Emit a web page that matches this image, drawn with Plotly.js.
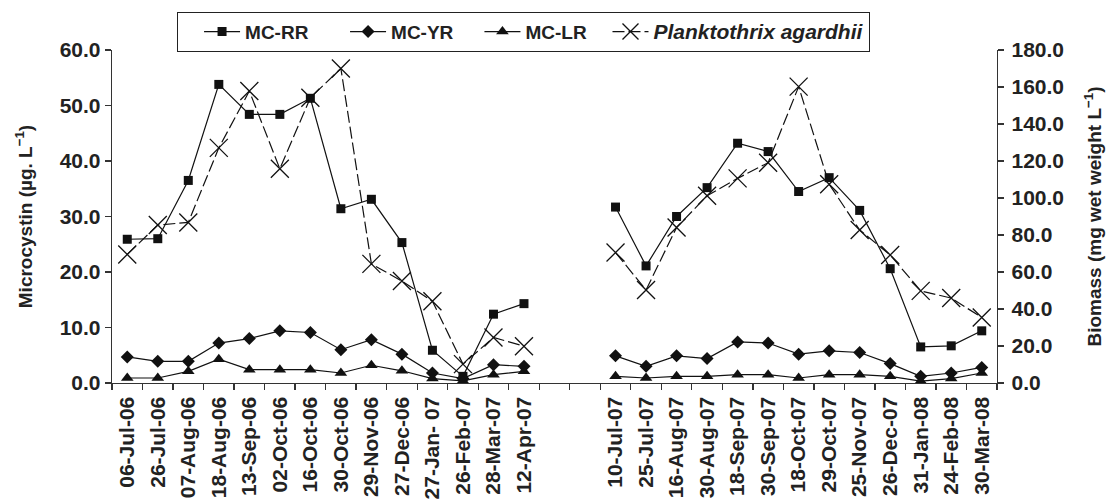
<!DOCTYPE html>
<html>
<head>
<meta charset="utf-8">
<script src="https://cdn.plot.ly/plotly-3.0.1.min.js"></script>
<style>html,body{margin:0;padding:0;background:#fff;}#chart{width:1113px;height:500px;}</style>
</head>
<body>
<div id="chart"></div>
<script>
// Sampling dates (two seasons) and two empty gap categories between them
var dates1 = ["06-Jul-06","26-Jul-06","07-Aug-06","18-Aug-06","13-Sep-06","02-Oct-06","16-Oct-06","30-Oct-06","29-Nov-06","27-Dec-06","27-Jan- 07","26-Feb-07","28-Mar-07","12-Apr-07"];
var gapLabels = [" ", "  "];
var dates2 = ["10-Jul-07","25-Jul-07","16-Aug-07","30-Aug-07","18-Sep-07","30-Sep-07","18-Oct-07","29-Oct-07","25-Nov-07","26-Dec-07","31-Jan-08","24-Feb-08","30-Mar-08"];

// Series names
var seriesNames = ["MC-RR", "MC-YR", "MC-LR", "Planktothrix agardhii"];

// Microcystin (µg L-1), left axis
var mcRR1 = [25.9, 26.0, 36.5, 53.8, 48.4, 48.4, 51.3, 31.4, 33.1, 25.3, 5.9, 1.2, 12.4, 14.3];
var mcRR2 = [31.7, 21.1, 30.0, 35.2, 43.2, 41.7, 34.5, 37.0, 31.1, 20.6, 6.5, 6.7, 9.4];
var mcYR1 = [4.7, 3.9, 3.9, 7.2, 8.0, 9.4, 9.1, 6.0, 7.8, 5.2, 1.8, 0.8, 3.3, 3.0];
var mcYR2 = [4.9, 3.0, 4.9, 4.4, 7.4, 7.2, 5.2, 5.8, 5.5, 3.5, 1.2, 1.8, 2.8];
var mcLR1 = [0.9, 0.9, 2.1, 4.3, 2.4, 2.4, 2.4, 1.8, 3.2, 2.2, 0.8, 0.4, 1.5, 2.1];
var mcLR2 = [1.2, 0.9, 1.2, 1.2, 1.5, 1.5, 0.9, 1.5, 1.5, 1.2, 0.35, 0.8, 1.8];
// Planktothrix agardhii biomass (mg wet weight L-1), right axis
var plank1 = [69.5, 85.4, 86.8, 127.1, 157.8, 115.8, 154.2, 170.0, 64.4, 55.1, 44.2, 10.2, 24.6, 19.9];
var plank2 = [70.5, 50.3, 84.1, 101.2, 110.6, 119.1, 160.2, 107.4, 82.7, 69.2, 49.8, 45.9, 35.4];

var categories = dates1.concat(gapLabels).concat(dates2);
var gapVals = gapLabels.map(function(){ return null; });
function join(a, b){ return a.concat(gapVals).concat(b); }
// legend spacing: trailing no-break spaces widen each legend entry
function pad(s, n){ return s + new Array(n + 1).join("\u00A0"); }

var FONT = "Arial, 'Liberation Sans', Helvetica, sans-serif";
var lineCommon = {color: "#111", width: 1.2};

var traces = [
  {name: pad(seriesNames[0], 6), x: categories, y: join(mcRR1, mcRR2), type: "scatter", mode: "lines+markers",
   line: lineCommon, marker: {symbol: "square", size: 9, color: "#111"}, connectgaps: false},
  {name: pad(seriesNames[1], 4), x: categories, y: join(mcYR1, mcYR2), type: "scatter", mode: "lines+markers",
   line: lineCommon, marker: {symbol: "diamond", size: 10, color: "#111"}, connectgaps: false},
  {name: pad(seriesNames[2], 3), x: categories, y: join(mcLR1, mcLR2), type: "scatter", mode: "lines+markers",
   line: lineCommon, marker: {symbol: "triangle-up", size: 11, color: "#111"}, connectgaps: false},
  {name: "<i><span style=\"font-size:21px\">" + seriesNames[3] + "</span></i>", x: categories, y: join(plank1, plank2), yaxis: "y2",
   type: "scatter", mode: "lines+markers",
   line: {color: "#111", width: 1.2, dash: "12px,4px"},
   marker: {symbol: "x-thin-open", size: 18, color: "#111", line: {color: "#111", width: 1.3}}, connectgaps: false}
];

var tickFont = {family: FONT, size: 21, color: "#222", weight: "bold"};
var titleFont = {family: FONT, size: 19, color: "#222", weight: "bold"};

var layout = {
  width: 1113, height: 500,
  margin: {l: 112, r: 116, t: 43, b: 117},
  paper_bgcolor: "#fff", plot_bgcolor: "#fff",
  showlegend: true,
  legend: {
    orientation: "h", x: 0.074, xanchor: "left", y: 1.115, yanchor: "top",
    bordercolor: "#222", borderwidth: 1, bgcolor: "#fff",
    font: {family: FONT, size: 19, color: "#222", weight: "bold"},
    itemwidth: 36,
    title: {text: "\u00A0\u00A0", side: "left", font: {family: FONT, size: 19}}
  },
  xaxis: {
    type: "category", categoryorder: "array", categoryarray: categories,
    range: [-0.5, categories.length - 0.5],
    showline: true, linecolor: "#333", linewidth: 1.3,
    ticks: "outside", tickson: "boundaries", ticklen: 6, tickcolor: "#333", tickwidth: 1.3,
    tickangle: -90, tickfont: tickFont, ticklabelstandoff: 4,
    showgrid: false, zeroline: false, fixedrange: true
  },
  xaxis2: {
    overlaying: "x", anchor: "y", type: "linear",
    range: [-0.5, categories.length - 0.5], tick0: -0.5, dtick: 1,
    ticks: "inside", ticklen: 6, tickcolor: "#333", tickwidth: 1.3,
    showticklabels: false, showline: false, showgrid: false, zeroline: false
  },
  yaxis: {
    range: [0, 60], dtick: 10, tickformat: ".1f",
    showline: true, linecolor: "#333", linewidth: 1.3,
    ticks: "outside", ticklen: 6, tickcolor: "#333", tickwidth: 1.3,
    tickfont: tickFont, showgrid: false, zeroline: false,
    title: {text: "Microcystin (µg. L<sup>−1</sup>)", font: titleFont, standoff: 22}
  },
  yaxis2: {
    overlaying: "y", side: "right", anchor: "x",
    range: [0, 180], dtick: 20, tickformat: ".1f",
    showline: true, linecolor: "#333", linewidth: 1.3,
    ticks: "outside", ticklen: 6, tickcolor: "#333", tickwidth: 1.3,
    tickfont: tickFont, ticklabelstandoff: 3, showgrid: false, zeroline: false,
    title: {text: "Biomass (mg wet weight L<sup>−1</sup>)", font: titleFont, standoff: 24}
  },
  yaxis3: {
    overlaying: "y", side: "left", anchor: "x", range: [0, 60], dtick: 10,
    ticks: "inside", ticklen: 6, tickcolor: "#333", tickwidth: 1.3,
    showticklabels: false, showline: false, showgrid: false, zeroline: false
  },
  yaxis4: {
    overlaying: "y", side: "right", anchor: "x", range: [0, 180], dtick: 20,
    ticks: "inside", ticklen: 6, tickcolor: "#333", tickwidth: 1.3,
    showticklabels: false, showline: false, showgrid: false, zeroline: false
  }
};

Plotly.newPlot("chart", traces, layout, {staticPlot: true, displayModeBar: false});
</script>
</body>
</html>
